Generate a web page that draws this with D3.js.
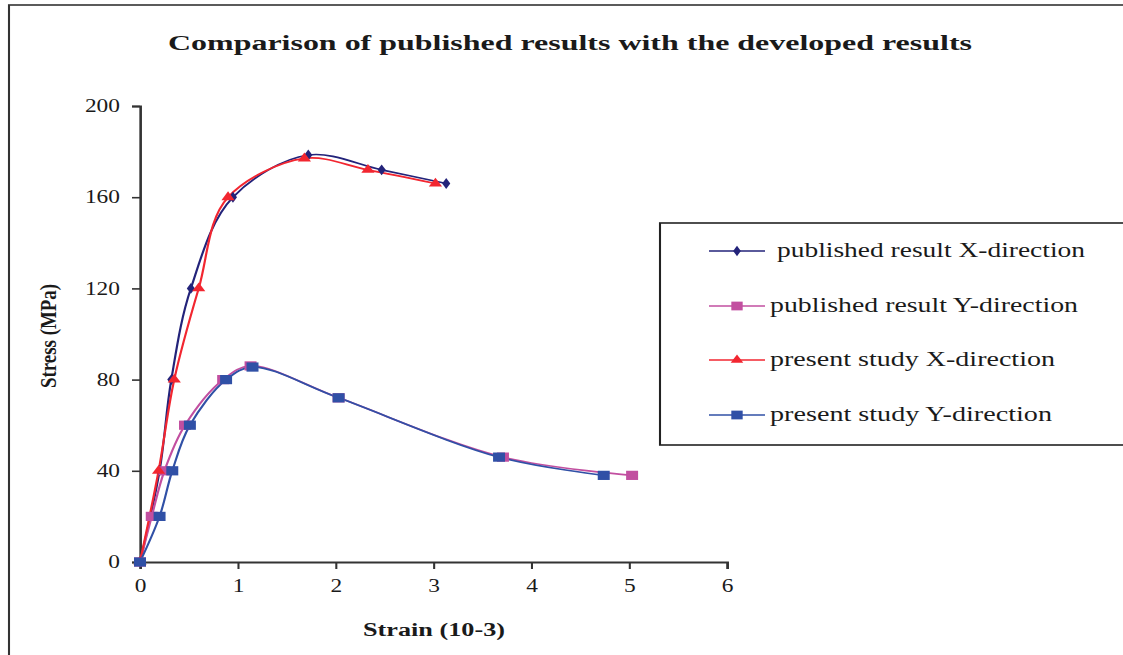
<!DOCTYPE html>
<html>
<head>
<meta charset="utf-8">
<script src="https://cdn.jsdelivr.net/npm/d3@7"></script>
<style>
html,body{margin:0;padding:0;background:#fff;}
svg{display:block;}
text{font-family:"Liberation Serif","Times New Roman",serif;fill:#1a1a1a;}
</style>
</head>
<body>
<svg id="chart"></svg>
<script>
// ---- data ----
const seriesNames = ["published result X-direction","published result Y-direction","present study X-direction","present study Y-direction"];
const pubXStrain = [0, 0.2, 0.32, 0.52, 0.95, 1.72, 2.47, 3.13];
const pubXStress = [0, 40, 80, 120, 160, 178.5, 172, 166];
const pubYStrain = [0, 0.12, 0.25, 0.46, 0.85, 1.13, 2.03, 3.71, 5.03];
const pubYStress = [0, 20, 40, 60, 80, 86, 72, 46, 38];
const preXStrain = [0, 0.19, 0.35, 0.6, 0.9, 1.68, 2.33, 3.02];
const preXStress = [0, 40, 80, 120, 160, 177, 172, 166];
const preYStrain = [0, 0.2, 0.33, 0.51, 0.88, 1.15, 2.03, 3.67, 4.74];
const preYStress = [0, 20, 40, 60, 80, 85.5, 72, 46, 38];
const xTicks = [0,1,2,3,4,5,6];
const yTicks = [0,40,80,120,160,200];
const titleText = "Comparison of published results with the developed results";
const xLabel = "Strain (10-3)";
const yLabel = "Stress (MPa)";

// ---- layout (horizontal stretch like the reference) ----
const WIDTH = 1123, HEIGHT = 655, SX = 1.3;
const VW = WIDTH / SX;
const X = p => p / SX;

const svg = d3.select("#chart")
  .attr("width", WIDTH).attr("height", HEIGHT)
  .attr("viewBox", `0 0 ${VW} ${HEIGHT}`)
  .attr("preserveAspectRatio", "none");

// outer frame
svg.append("rect").attr("x", X(9)).attr("y", 5).attr("width", X(1200)).attr("height", 800)
  .attr("fill", "#fff").attr("stroke", "#333").attr("stroke-width", 1.6);

const xScale = d3.scaleLinear().domain([0, 6]).range([X(140), X(727)]);
const yScale = d3.scaleLinear().domain([0, 200]).range([562, 106]);

const series = [
  {name: seriesNames[0], xs: pubXStrain, ys: pubXStress, color: "#23237a", sym: d3.symbolDiamond, size: 34},
  {name: seriesNames[1], xs: pubYStrain, ys: pubYStress, color: "#c24fa0", sym: d3.symbolSquare, size: 85},
  {name: seriesNames[2], xs: preXStrain, ys: preXStress, color: "#f22630", sym: d3.symbolTriangle, size: 45},
  {name: seriesNames[3], xs: preYStrain, ys: preYStress, color: "#3050a6", sym: d3.symbolSquare, size: 85}
];

// title
svg.append("text").attr("x", X(570)).attr("y", 50).attr("text-anchor", "middle")
  .attr("font-size", 22).attr("font-weight", "bold")
  .attr("textLength", X(804)).attr("lengthAdjust", "spacingAndGlyphs")
  .text(titleText);

// axes
const axisColor = "#333";
const gy = svg.append("g").attr("transform", `translate(${X(140)},0)`)
  .call(d3.axisLeft(yScale).tickValues(yTicks).tickSize(X(8)).tickPadding(X(12)).tickFormat(d3.format("d")));
const gx = svg.append("g").attr("transform", `translate(0,562)`)
  .call(d3.axisBottom(xScale).tickValues(xTicks).tickSize(7).tickPadding(10).tickFormat(d3.format("d")));
[gx, gy].forEach(g => {
  g.select(".domain").attr("stroke", axisColor).attr("stroke-width", 2);
  g.selectAll(".tick line").attr("stroke", axisColor).attr("stroke-width", 1.6);
  g.selectAll(".tick text").attr("font-size", 18).attr("fill", "#1a1a1a")
    .attr("font-family", "Liberation Serif, Times New Roman, serif");
});

// axis titles
svg.append("text").attr("x", X(434)).attr("y", 636).attr("text-anchor", "middle")
  .attr("font-size", 19).attr("font-weight", "bold")
  .attr("textLength", X(142)).attr("lengthAdjust", "spacingAndGlyphs").text(xLabel);
svg.append("text").attr("transform", `translate(${X(56)},336) rotate(-90)`)
  .attr("text-anchor", "middle").attr("font-size", 18).attr("font-weight", "bold")
  .attr("textLength", 104).attr("lengthAdjust", "spacingAndGlyphs").text(yLabel);

// lines
const line = d3.line().curve(d3.curveCatmullRom.alpha(0.5)).x(d => xScale(d[0])).y(d => yScale(d[1]));
const plot = svg.append("g");
series.forEach(s => {
  const pts = s.xs.map((x, i) => [x, s.ys[i]]);
  s.pts = pts;
  plot.append("path").datum(pts).attr("d", line).attr("fill", "none")
    .attr("stroke", s.color).attr("stroke-width", 1.7);
});
series.forEach(s => {
  plot.selectAll(null).data(s.pts).enter().append("path")
    .attr("d", d3.symbol().type(s.sym).size(s.size))
    .attr("transform", d => `translate(${xScale(d[0])},${yScale(d[1])})`)
    .attr("fill", s.color);
});

// legend
const leg = svg.append("g");
leg.append("rect").attr("x", X(660)).attr("y", 223).attr("width", X(600)).attr("height", 222)
  .attr("fill", "#fff").attr("stroke", "#222").attr("stroke-width", 1.6);
const rowY = [251, 306, 360, 415];
const textX = [777, 770, 770, 770];
const textW = [308, 308, 285, 282];
series.forEach((s, i) => {
  const g = leg.append("g");
  g.append("line").attr("x1", X(709)).attr("x2", X(765)).attr("y1", rowY[i]).attr("y2", rowY[i])
    .attr("stroke", s.color).attr("stroke-width", 1.7);
  g.append("path").attr("d", d3.symbol().type(s.sym).size(s.size * 0.9))
    .attr("transform", `translate(${X(737)},${rowY[i]})`).attr("fill", s.color);
  g.append("text").attr("x", X(textX[i])).attr("y", rowY[i] + 6).attr("font-size", 20)
    .attr("textLength", X(textW[i])).attr("lengthAdjust", "spacingAndGlyphs").text(s.name);
});
</script>
</body>
</html>
